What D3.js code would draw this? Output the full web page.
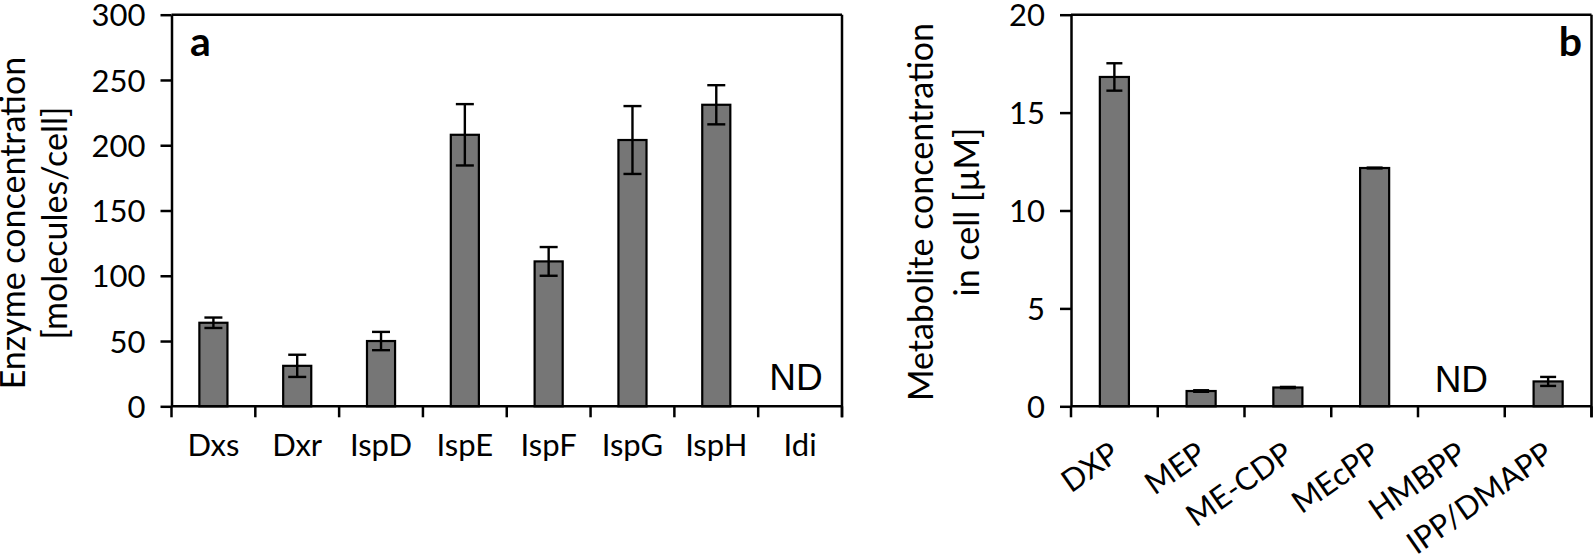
<!DOCTYPE html>
<html>
<head>
<meta charset="utf-8">
<script src="https://cdn.jsdelivr.net/npm/d3@7"></script>
<style>
  body { margin: 0; background: #fff; }
  svg text { font-family: Lato, "Open Sans", sans-serif; fill: #000; }
</style>
</head>
<body>
<svg id="chart" width="1596" height="554"></svg>
<script>
// panel a: enzymes
const enzymes = ["Dxs", "Dxr", "IspD", "IspE", "IspF", "IspG", "IspH", "Idi"];
const enzymeValues = [64, 31, 50, 208, 111, 204, 231, null];
const enzymeErrors = [4, 8.5, 7, 23.5, 11, 26, 15, null];
const enzymeTicks = [0, 50, 100, 150, 200, 250, 300];

// panel b: metabolites
const metabolites = ["DXP", "MEP", "ME-CDP", "MEcPP", "HMBPP", "IPP/DMAPP"];
const metaboliteValues = [16.82, 0.78, 0.96, 12.17, null, 1.27];
const metaboliteErrors = [0.7, 0.04, 0.03, 0.02, null, 0.23];
const metaboliteTicks = [0, 5, 10, 15, 20];

const svg = d3.select("#chart");
const TOP = 14.7, BOTTOM = 406.3;

function drawPanel(cfg) {
  const g = svg.append("g");
  const x = d3.scaleBand().domain(cfg.categories).range([cfg.left, cfg.right]).padding(0);
  const y = d3.scaleLinear().domain([0, d3.max(cfg.ticks)]).range([BOTTOM, TOP]);

  const data = cfg.categories.map((c, i) => ({ name: c, value: cfg.values[i], err: cfg.errors[i] }));
  const barW = x.bandwidth() * 0.335;

  // bars
  g.selectAll("rect.bar")
    .data(data.filter((d) => d.value != null))
    .join("rect")
    .attr("class", "bar")
    .attr("x", (d) => x(d.name) + x.bandwidth() / 2 - barW / 2)
    .attr("y", (d) => y(d.value))
    .attr("width", barW)
    .attr("height", (d) => y(0) - y(d.value))
    .attr("fill", "#767676")
    .attr("stroke", "#000")
    .attr("stroke-width", 2.2);

  // error bars
  const eb = g.selectAll("g.err")
    .data(data.filter((d) => d.value != null))
    .join("g")
    .attr("class", "err")
    .attr("stroke", "#000")
    .attr("stroke-width", 2.4);
  const cx = (d) => x(d.name) + x.bandwidth() / 2;
  eb.append("line")
    .attr("x1", cx).attr("x2", cx)
    .attr("y1", (d) => y(d.value + d.err)).attr("y2", (d) => y(d.value - d.err));
  [1, -1].forEach((s) => {
    eb.append("line")
      .attr("x1", (d) => cx(d) - cfg.cap / 2).attr("x2", (d) => cx(d) + cfg.cap / 2)
      .attr("y1", (d) => y(d.value + s * d.err)).attr("y2", (d) => y(d.value + s * d.err));
  });

  // ND labels
  g.selectAll("text.nd")
    .data(data.filter((d) => d.value == null))
    .join("text")
    .attr("class", "nd")
    .attr("x", (d) => cx(d) + cfg.ndShift)
    .attr("y", cfg.ndY)
    .attr("text-anchor", "middle")
    .style("font-family", "'Liberation Sans', Arial, sans-serif")
    .style("font-size", "37px")
    .text("ND");

  // frame: x axis, top, right
  const frame = g.append("g").attr("stroke", "#000").attr("stroke-width", 2.5);
  frame.append("line").attr("x1", cfg.left).attr("x2", cfg.right).attr("y1", y(0)).attr("y2", y(0));
  frame.append("line").attr("x1", cfg.left).attr("x2", cfg.right).attr("y1", TOP).attr("y2", TOP);
  frame.append("line").attr("x1", cfg.right).attr("x2", cfg.right).attr("y1", TOP).attr("y2", y(0) + 11);

  // x ticks at category boundaries
  const bounds = cfg.categories.map((c) => x(c)).concat([cfg.right]);
  frame.selectAll("line.xt")
    .data(bounds)
    .join("line")
    .attr("class", "xt")
    .attr("x1", (d) => d).attr("x2", (d) => d)
    .attr("y1", y(0)).attr("y2", y(0) + 11);

  // y axis
  const ax = g.append("g")
    .attr("transform", `translate(${cfg.left},0)`)
    .call(d3.axisLeft(y).tickValues(cfg.ticks).tickSize(11).tickSizeOuter(0).tickPadding(15));
  ax.selectAll("path, line").attr("stroke", "#000").attr("stroke-width", 2.5);
  ax.selectAll("text")
    .attr("fill", "#000")
    .attr("dy", "0.36em")
    .style("font-family", "Lato, sans-serif")
    .style("font-size", "31px");

  // x labels
  const xl = g.selectAll("text.xl")
    .data(cfg.categories)
    .join("text")
    .attr("class", "xl")
    .style("font-size", "31px")
    .text((d) => d);
  if (cfg.rotate) {
    xl.attr("text-anchor", "end")
      .attr("transform", (d) => `translate(${x(d) + x.bandwidth() / 2 + 7},${y(0) + 52}) rotate(${cfg.rotate})`);
  } else {
    xl.attr("text-anchor", "middle")
      .attr("x", (d) => x(d) + x.bandwidth() / 2)
      .attr("y", y(0) + 50);
  }

  // axis title
  cfg.title.forEach((t, i) => {
    g.append("text")
      .attr("text-anchor", "middle")
      .attr("transform", `translate(${cfg.titleX[i]},${cfg.titleY}) rotate(-90)`)
      .style("font-size", "34px")
      .text(t);
  });

  // panel letter
  g.append("text")
    .attr("x", cfg.letterX)
    .attr("y", 56)
    .attr("text-anchor", cfg.letterAnchor)
    .style("font-size", "41px")
    .style("font-weight", "bold")
    .text(cfg.letter);
}

drawPanel({
  categories: enzymes, values: enzymeValues, errors: enzymeErrors, ticks: enzymeTicks,
  left: 171.5, right: 842, cap: 18,
  ndShift: -4, ndY: 390,
  title: ["Enzyme concentration", "[molecules/cell]"], titleX: [25, 67], titleY: 223,
  letter: "a", letterX: 190, letterAnchor: "start"
});

drawPanel({
  categories: metabolites, values: metaboliteValues, errors: metaboliteErrors, ticks: metaboliteTicks,
  left: 1071, right: 1591.5, cap: 16,
  ndShift: 0, ndY: 392, rotate: -35,
  title: ["Metabolite concentration", "in cell [\u00b5M]"], titleX: [933, 979], titleY: 212,
  letter: "b", letterX: 1582, letterAnchor: "end"
});
</script>
</body>
</html>
